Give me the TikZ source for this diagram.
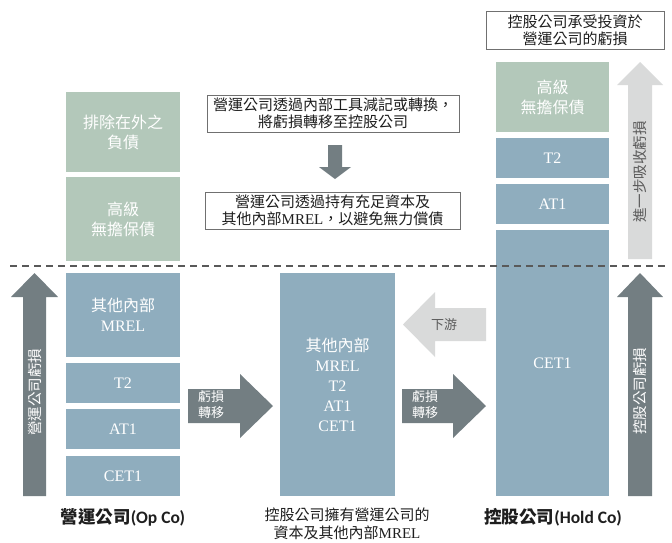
\documentclass[tikz,border=0pt]{standalone}
\usepackage{fontspec}
\setmainfont{Liberation Serif}
\newfontfamily\cjk{Noto Sans CJK TC}
\newfontfamily\calfont{Carlito}
\definecolor{cgreen}{RGB}{179,200,186}
\definecolor{cblue}{RGB}{143,173,190}
\definecolor{cdark}{RGB}{115,126,130}
\definecolor{clight}{RGB}{217,218,218}
\definecolor{cborder}{RGB}{112,112,112}
\definecolor{cdash}{RGB}{89,89,89}
\definecolor{ctext}{RGB}{30,30,30}
\tikzset{
  layer/.style={draw=none, inner sep=0pt, align=center, text=white, font=\fontsize{16}{20}\selectfont},
  gbox/.style={layer, fill=cgreen},
  bbox/.style={layer, fill=cblue},
  tbox/.style={draw=cborder, line width=0.9pt, fill=white, inner sep=0pt, align=center, text=ctext, font=\fontsize{15}{17}\selectfont},
  darrow/.style={fill=cdark},
  larrow/.style={fill=clight},
  atext/.style={inner sep=0pt, align=center, text=white, font=\cjk\fontsize{13}{16}\selectfont},
  vtext/.style={inner sep=0pt, rotate=90, text=white, font=\cjk\fontsize{14.5}{16}\selectfont},
  lbl/.style={inner sep=0pt, align=center, text=ctext, font=\fontsize{17.5}{20}\selectfont\bfseries},
}
\begin{document}
\begin{tikzpicture}[x=1pt,y=-1pt]
\useasboundingbox (0,0) rectangle (672,542);
% left column (Op Co)
\node[gbox, minimum width=114pt, minimum height=80pt] (ex) at (123,132) {\cjk 排除在外之\\\cjk 負債};
\node[gbox, minimum width=114pt, minimum height=84pt] (lsn) at (123,219) {\cjk 高級\\\cjk 無擔保債};
\node[bbox, minimum width=114pt, minimum height=84pt] (lm) at (123,315) {{\cjk 其他內部}\\MREL};
\node[bbox, minimum width=114pt, minimum height=40pt] (lt2) at (123,383) {T2};
\node[bbox, minimum width=114pt, minimum height=40pt] (la1) at (123,429) {AT1};
\node[bbox, minimum width=114pt, minimum height=40pt] (lc) at (123,476) {CET1};
% middle
\node[bbox, minimum width=115pt, minimum height=223pt] (mid) at (337.5,384.5) {{\cjk 其他內部}\\MREL\\T2\\AT1\\CET1};
% right column (Hold Co)
\node[gbox, minimum width=113pt, minimum height=70pt] (rsn) at (552.5,97) {\cjk 高級\\\cjk 無擔保債};
\node[bbox, minimum width=113pt, minimum height=40pt] (rt2) at (552.5,158) {T2};
\node[bbox, minimum width=113pt, minimum height=40pt] (ra1) at (552.5,204) {AT1};
\node[bbox, minimum width=113pt, minimum height=266pt] (rc) at (552.5,363) {CET1};
% dashed line
\coordinate (dl) at (10,266);
\coordinate (dr) at (668,266);
\draw[cdash, line width=2pt, dash pattern=on 7pt off 5pt] (dl) -- (dr);
% text boxes
\node[tbox, minimum width=252pt, minimum height=37pt] (tb1) at (333,113.5) {\cjk 營運公司透過內部工具減記或轉換，\\\cjk 將虧損轉移至控股公司};
\node[tbox, minimum width=255pt, minimum height=37pt] (tb2) at (332.5,210.5) {{\cjk 營運公司透過持有充足資本及}\\{\cjk 其他內部}MREL{\cjk ，以避免無力償債}};
\node[tbox, minimum width=178pt, minimum height=38pt] (tb3) at (575,30) {\cjk 控股公司承受投資於\\\cjk 營運公司的虧損};
% down arrow between text boxes
\fill[darrow] (328,145) -- (342,145) -- (342,167) -- (351,167) -- (335,179) -- (319,167) -- (328,167) -- cycle;
% left vertical arrow
\fill[darrow] (23,496) -- (23,297) -- (11,297) -- (34.5,273) -- (58,297) -- (46,297) -- (46,496) -- cycle;
\node[vtext] (lv) at (35,392) {營運公司虧損};
% right dark vertical arrow
\fill[darrow] (628,496) -- (628,297) -- (617,297) -- (640,273) -- (663,297) -- (652,297) -- (652,496) -- cycle;
\node[vtext] (rv) at (640,391) {控股公司虧損};
% right light vertical arrow
\fill[larrow] (628,259) -- (628,85) -- (617,85) -- (640,62) -- (663,85) -- (652,85) -- (652,259) -- cycle;
\node[vtext, text=cdash] (rv2) at (640,172) {進一步吸收虧損};
% loss transfer arrows
\fill[darrow] (188,389) -- (240,389) -- (240,374) -- (273,406) -- (240,438) -- (240,423) -- (188,423) -- cycle;
\node[atext] (t1) at (211,405) {虧損\\轉移};
\fill[darrow] (402,389) -- (453,389) -- (453,374) -- (486,406) -- (453,438) -- (453,423) -- (402,423) -- cycle;
\node[atext] (t2) at (425,405) {虧損\\轉移};
% downstream arrow
\fill[larrow] (486,308) -- (435,308) -- (435,292) -- (403,324.5) -- (435,357) -- (435,341) -- (486,341) -- cycle;
\node[atext, text=cdash] (ds) at (444,324.5) {下游};
% labels
\node[lbl] (lop) at (123,517) {{\cjk\bfseries 營運公司}{\calfont\bfseries (Op Co)}};
\node[lbl] (lhc) at (553,517) {{\cjk\bfseries 控股公司}{\calfont\bfseries (Hold Co)}};
\node[inner sep=0pt, align=center, text=ctext, font=\fontsize{15}{18}\selectfont] (lmid) at (347,524) {{\cjk 控股公司擁有營運公司的}\\{\cjk 資本及其他內部}MREL};
\end{tikzpicture}
\end{document}
